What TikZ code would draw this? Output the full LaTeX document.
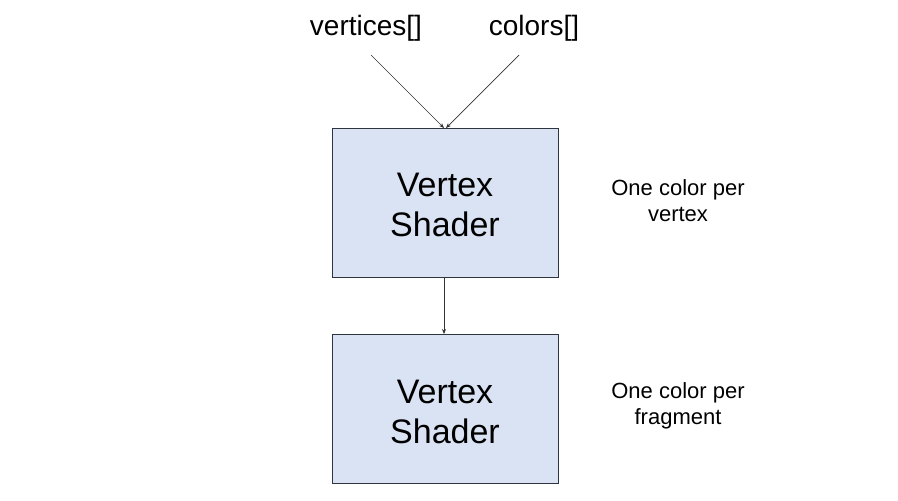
\documentclass[tikz,border=0pt]{standalone}
\usepackage{fontspec}
\setmainfont{Liberation Sans}
\usetikzlibrary{arrows.meta}
\definecolor{boxfill}{HTML}{DAE3F3}
\definecolor{boxline}{HTML}{2E3440}
\definecolor{arrline}{HTML}{333333}
\begin{document}
\begin{tikzpicture}[x=1pt,y=-1pt,
  shaderbox/.style={draw=boxline,fill=boxfill,line width=1pt,minimum width=226pt,minimum height=149pt,inner sep=0pt},
  shadertext/.style={align=center,inner sep=0pt,font=\fontsize{34}{40}\selectfont},
  inlabel/.style={font=\fontsize{28}{32}\selectfont,inner sep=0pt},
  sidelabel/.style={font=\fontsize{22}{26}\selectfont,align=center,inner sep=0pt},
  conn/.style={draw=arrline,line width=0.7pt,-{Stealth[length=5pt,width=4pt]}}]
\useasboundingbox (0,0) rectangle (898,501);
\fill[white] (0,0) rectangle (898,501);
\node[shaderbox] (vs) at (445,202.5) {};
\node[shadertext] (vst) at ([yshift=-2.5pt]vs.center) {Vertex\\Shader};
\node[shaderbox] (fs) at (445,409) {};
\node[shadertext] (fst) at ([yshift=-2.5pt]fs.center) {Vertex\\Shader};
\node[inlabel] (vert) at (366,28) {vertices[]};
\node[inlabel] (col) at (534,28) {colors[]};
\node[sidelabel] (l1) at (678,200.5) {One color per\\vertex};
\node[sidelabel] (l2) at (678,405.5) {One color per\\fragment};
\coordinate (vs1) at (444,128);
\coordinate (vs2) at (446,128);
\draw[conn] (371,55) coordinate (va) -- (vs1);
\draw[conn] (519,55) coordinate (ca) -- (vs2);
\draw[conn] (vs.south -| 444,0) -- (fs.north -| 444,0);
\end{tikzpicture}
\end{document}
